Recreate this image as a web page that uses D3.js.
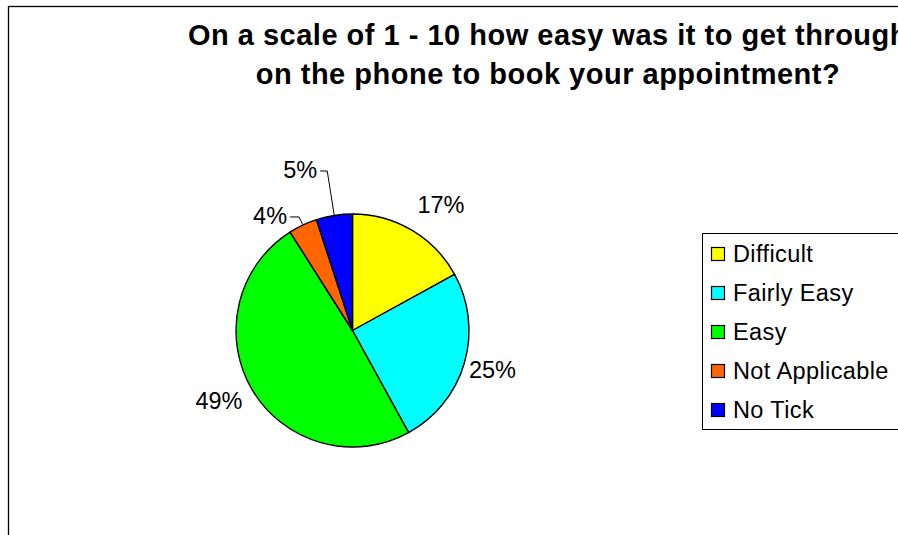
<!DOCTYPE html>
<html>
<head>
<meta charset="utf-8">
<script src="https://cdn.jsdelivr.net/npm/d3@7"></script>
<style>
  html, body { margin: 0; padding: 0; background: #fff; }
  svg { display: block; font-family: "Liberation Sans", Arial, sans-serif; }
</style>
</head>
<body>
<svg id="chart" width="898" height="535"></svg>
<script>
// Survey answers (percent of respondents)
const categories = ["Difficult", "Fairly Easy", "Easy", "Not Applicable", "No Tick"];
const percents   = [17, 25, 49, 4, 5];
const colors     = ["#FFFF00", "#00FFFF", "#00FF00", "#FF6600", "#0000FF"];
const titleLines = [
  "On a scale of 1 - 10 how easy was it to get through",
  "on the phone to book your appointment?"
];

// Layout
const W = 898, H = 535;
const cx = 352.5, cy = 330.5, R = 116.5;
const labelGap = 14;                 // distance from rim to label box
const labelNudge = [[10, -6], [-8, 0], [-1, -1], [0, 0], [0, 0]];
const leaderLen  = [0, 0, 0, 9, 45]; // >0 → label drawn with a leader line
const leaderRun  = [0, 0, 0, 9, 7];  // horizontal part of the leader

const svg = d3.select("#chart");

// chart area frame (extends past the right / bottom edge)
svg.append("rect")
  .attr("x", 8.5).attr("y", 6.5)
  .attr("width", 1200).attr("height", 1200)
  .attr("fill", "#fff").attr("stroke", "#000").attr("stroke-width", 1.3);

// title
svg.append("text")
  .attr("text-anchor", "middle")
  .attr("font-weight", "bold")
  .attr("font-size", 29)
  .attr("letter-spacing", 0.5)
  .attr("fill", "#000")
  .selectAll("tspan")
  .data(titleLines)
  .join("tspan")
  .attr("x", 548)
  .attr("y", (d, i) => 45 + i * 39)
  .text(d => d);

// pie
const pie = d3.pie().sort(null).value(d => d.value)
  .startAngle(0).endAngle(2 * Math.PI);
const data = categories.map((c, i) => ({ cat: c, value: percents[i], color: colors[i], i }));
const arcs = pie(data);
const arc = d3.arc().innerRadius(0).outerRadius(R);

const g = svg.append("g").attr("transform", `translate(${cx},${cy})`);
g.selectAll("path")
  .data(arcs)
  .join("path")
  .attr("d", arc)
  .attr("fill", d => d.data.color)
  .attr("stroke", "#000")
  .attr("stroke-width", 1.4)
  .attr("stroke-linejoin", "round");

// data labels
const fs = 23.5;
const polar = (a, r) => [r * Math.sin(a), -r * Math.cos(a)];
arcs.forEach(d => {
  const i = d.data.i;
  const mid = (d.startAngle + d.endAngle) / 2;
  const txt = d.data.value + "%";
  if (leaderLen[i] > 0) {
    const E = polar(mid, R);
    const B = polar(mid, R + leaderLen[i]);
    const S = [B[0] - leaderRun[i], B[1]];
    g.append("polyline")
      .attr("points", [S, B, E].map(p => p.join(",")).join(" "))
      .attr("fill", "none").attr("stroke", "#000").attr("stroke-width", 1);
    g.append("text")
      .attr("x", S[0] - 3).attr("y", S[1] + 7)
      .attr("text-anchor", "end")
      .attr("font-size", fs).attr("fill", "#000")
      .text(txt);
  } else {
    const t = g.append("text").attr("font-size", fs).attr("fill", "#000")
      .attr("text-anchor", "middle").text(txt);
    const bb = t.node().getBBox();
    const p = polar(mid, R + labelGap);
    const w = bb.width, h = 17;
    const x = p[0] + Math.sin(mid) * w / 2 + labelNudge[i][0];
    const yc = p[1] - Math.cos(mid) * h / 2 + labelNudge[i][1];
    t.attr("x", x).attr("y", yc + h / 2);
  }
});

// legend
const lg = svg.append("g");
lg.append("rect")
  .attr("x", 702.5).attr("y", 233.5)
  .attr("width", 400).attr("height", 196)
  .attr("fill", "#fff").attr("stroke", "#000").attr("stroke-width", 1);
const item = lg.selectAll("g.item")
  .data(data)
  .join("g")
  .attr("class", "item")
  .attr("transform", (d, i) => `translate(0,${254 + i * 39})`);
item.append("rect")
  .attr("x", 711.5).attr("y", -6.5)
  .attr("width", 13).attr("height", 13)
  .attr("fill", d => d.color)
  .attr("stroke", "#000").attr("stroke-width", 1.2);
item.append("text")
  .attr("x", 733).attr("y", 8)
  .attr("font-size", fs).attr("letter-spacing", 0.4).attr("fill", "#000")
  .text(d => d.cat);
</script>
</body>
</html>
